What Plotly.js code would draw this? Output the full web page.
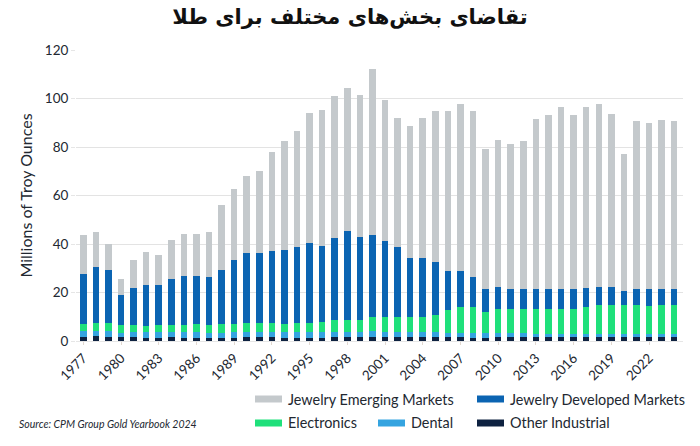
<!DOCTYPE html>
<html>
<head>
<meta charset="utf-8">
<script src="https://cdn.plot.ly/plotly-3.0.1.min.js"></script>
<style>
  html, body { margin: 0; padding: 0; background: #ffffff; }
  #graph { width: 700px; height: 446px; }
</style>
</head>
<body>
<div id="graph"></div>
<script>
// Gold demand by sector, million troy ounces
var years = [];
for (var y = 1977; y <= 2024; y++) { years.push(y); }

var otherIndustrial = [1.6,2.0,1.8,1.5,1.5,1.4,1.4,1.5,1.4,1.4,1.3,1.2,1.4,1.5,1.5,1.5,1.4,1.4,1.4,1.4,
  1.5,1.6,1.6,1.7,1.6,1.5,1.5,1.5,1.5,1.5,1.5,1.4,1.3,1.6,1.6,1.6,1.6,1.5,1.5,1.5,
  1.6,1.7,1.7,1.8,1.8,1.8,1.8,1.8];
var dental = [2.4,2.3,2.2,2.0,2.2,2.2,2.2,2.2,2.2,2.2,2.2,2.2,2.2,2.3,2.3,2.3,2.3,2.3,2.3,2.3,
  2.3,2.3,2.3,2.3,2.3,2.3,2.2,2.2,2.1,2.0,2.0,1.9,1.8,1.7,1.6,1.5,1.4,1.3,1.2,1.2,
  1.1,1.1,1.0,0.9,0.9,0.9,0.9,0.9];
var electronics = [2.9,3.3,3.6,3.0,2.8,2.6,2.9,3.1,2.9,3.3,3.0,3.5,3.5,3.5,3.5,3.5,3.4,3.6,3.9,4.1,
  4.9,4.8,4.8,6.0,6.1,6.2,6.3,6.3,7.0,9.3,10.4,10.9,8.9,10.0,10.1,10.2,10.3,10.5,10.6,10.6,
  11.5,11.9,12.3,12.0,12.0,11.7,12.0,12.0];
var jewelryDeveloped = [20.7,22.8,21.5,12.5,15.5,17.0,16.5,18.8,20.3,19.9,19.9,22.2,26.3,28.9,28.9,29.7,30.6,31.6,32.7,31.4,
  33.8,36.5,34.3,33.6,31.2,28.6,24.4,24.1,22.1,15.9,14.8,12.3,9.6,8.8,8.3,8.0,8.0,8.0,8.3,8.3,
  7.7,7.7,7.4,6.1,6.6,6.9,6.9,6.9];
var jewelryEmerging = [16.1,14.4,10.8,6.6,11.4,13.5,12.6,16.0,17.2,17.5,18.6,27.1,29.1,32.0,33.8,40.8,44.8,47.7,53.6,56.1,
  58.4,59.0,58.6,68.4,58.0,53.4,54.3,57.9,62.1,66.1,68.9,68.5,57.7,60.8,59.6,61.3,70.4,71.9,75.0,71.6,
  74.7,75.5,71.2,56.4,69.4,68.7,69.5,69.1];

var tickYears = [];
for (var t = 1977; t <= 2022; t += 3) { tickYears.push(t); }

var seriesNames = ["Other Industrial", "Dental", "Electronics", "Jewelry Developed Markets", "Jewelry Emerging Markets"];
var seriesColors = ["#0e2241", "#35a4e0", "#1fe07b", "#0b64b2", "#c4c9cc"];
var seriesValues = [otherIndustrial, dental, electronics, jewelryDeveloped, jewelryEmerging];

var fontFamily = "Lato, 'Open Sans', sans-serif";
var textColor = "#222831";

// plot area in pixels, used to place the hand-drawn legend
var W = 700, H = 446;
var M = { l: 76, r: 17, t: 50, b: 105 };
function px(x) { return (x - M.l) / (W - M.l - M.r); }
function py(y) { return (H - M.b - y) / (H - M.t - M.b); }

var data = [];
for (var i = 0; i < seriesNames.length; i++) {
    data.push({
        x: years,
        y: seriesValues[i],
        type: "bar",
        name: seriesNames[i],
        marker: { color: seriesColors[i], line: { width: 0 } },
        showlegend: false,
        hovertemplate: "%{x}: %{y}<extra>" + seriesNames[i] + "</extra>"
    });
}

// legend layout: [series index, swatch left x, row y]
var legendItems = [
    [4, 255, 399],
    [3, 477, 399],
    [2, 255, 423],
    [1, 378, 423],
    [0, 477, 423]
];

var shapes = [];
var annotations = [];
legendItems.forEach(function (it) {
    var idx = it[0], lx = it[1], ly = it[2];
    shapes.push({
        type: "rect", xref: "paper", yref: "paper",
        x0: px(lx), x1: px(lx + 27),
        y0: py(ly + 3.5), y1: py(ly - 3.5),
        fillcolor: seriesColors[idx], line: { width: 0 }
    });
    annotations.push({
        text: seriesNames[idx],
        xref: "paper", yref: "paper",
        x: px(lx + 31), xanchor: "left",
        y: py(ly), yanchor: "middle",
        showarrow: false,
        font: { family: fontFamily, size: 14.4, color: textColor }
    });
});

annotations.push({
    text: "<i>Source: CPM Group Gold Yearbook 2024</i>",
    xref: "paper", yref: "paper",
    x: px(17), xanchor: "left",
    y: py(424), yanchor: "middle",
    showarrow: false,
    font: { family: fontFamily, size: 10.5, color: textColor }
});

var layout = {
    width: W,
    height: H,
    barmode: "stack",
    bargap: 0.48,
    paper_bgcolor: "#ffffff",
    plot_bgcolor: "#ffffff",
    margin: M,
    showlegend: false,
    font: { family: fontFamily, size: 13, color: textColor },
    title: {
        text: "<b>تقاضای بخش\u200cهای مختلف برای طلا</b>",
        font: { family: "'DejaVu Sans', 'Noto Sans', sans-serif", size: 21, color: "#111111" },
        x: 0.5,
        xanchor: "center",
        y: 0.962,
        yanchor: "middle"
    },
    xaxis: {
        range: [1976.42, 2024.7],
        tickvals: tickYears,
        ticktext: tickYears.map(String),
        tickangle: -45,
        tickfont: { family: fontFamily, size: 13.5, color: textColor },
        ticks: "outside",
        ticklen: 3,
        tickcolor: "#e2d8d0",
        showgrid: false,
        showline: true,
        linecolor: "#e6e6e6",
        linewidth: 1,
        zeroline: false,
        automargin: false
    },
    yaxis: {
        range: [0, 120],
        dtick: 20,
        tickfont: { family: fontFamily, size: 13.5, color: textColor },
        ticks: "outside",
        ticklen: 4,
        tickcolor: "#e6e6e6",
        gridcolor: "#e3e3e3",
        gridwidth: 1,
        zeroline: false,
        showline: false,
        automargin: false,
        title: {
            text: "Millions of Troy Ounces",
            font: { family: fontFamily, size: 16, color: textColor },
            standoff: 8
        }
    },
    shapes: shapes,
    annotations: annotations
};

Plotly.newPlot(document.getElementById("graph"), data, layout, { displayModeBar: false, responsive: false });
</script>
</body>
</html>
